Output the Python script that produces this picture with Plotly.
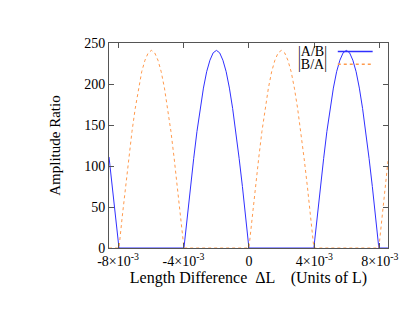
import plotly.graph_objects as go

# x values in units of 1e-3 L
blue_x = [-8.55, -8.35, -8.15, -7.94, -3.97,
          -3.970, -3.772, -3.573, -3.375, -3.176, -2.978, -2.779, -2.581, -2.382, -2.184, -1.985,
          -1.787, -1.588, -1.390, -1.191, -0.993, -0.794, -0.596, -0.397, -0.199, 0.000,
          3.970,
          3.970, 4.169, 4.367, 4.566, 4.764, 4.963, 5.161, 5.360, 5.558, 5.757, 5.955,
          6.154, 6.352, 6.551, 6.749, 6.948, 7.146, 7.345, 7.543, 7.742, 7.940, 8.50]
blue_y = [111, 77, 40, 0, 0,
          0, 38, 75, 109, 142, 170, 195, 215, 229, 238, 241,
          238, 229, 215, 195, 170, 142, 109, 75, 38, 0,
          0,
          0, 38, 75, 109, 142, 170, 195, 215, 229, 238, 241,
          238, 229, 215, 195, 170, 142, 109, 75, 38, 0, 0]

orange_x = [-8.55, -7.94,
            -7.940, -7.742, -7.543, -7.345, -7.146, -6.948, -6.749, -6.551, -6.352, -6.154, -5.955,
            -5.757, -5.558, -5.360, -5.161, -4.963, -4.764, -4.566, -4.367, -4.169, -3.970,
            0.000,
            0.000, 0.199, 0.397, 0.596, 0.794, 0.993, 1.191, 1.390, 1.588, 1.787, 1.985,
            2.184, 2.382, 2.581, 2.779, 2.978, 3.176, 3.375, 3.573, 3.772, 3.970,
            7.940, 8.140, 8.340, 8.50]
orange_y = [0, 0,
            0, 38, 75, 109, 142, 170, 195, 215, 229, 238, 241,
            238, 229, 215, 195, 170, 142, 109, 75, 38, 0,
            0,
            0, 38, 75, 109, 142, 170, 195, 215, 229, 238, 241,
            238, 229, 215, 195, 170, 142, 109, 75, 38, 0,
            0, 38, 75, 106]

x_ticks = [-8e-3, -4e-3, 0, 4e-3, 8e-3]
x_tick_labels = ["-8×10<sup>-3</sup>", "-4×10<sup>-3</sup>", "0", "4×10<sup>-3</sup>", "8×10<sup>-3</sup>"]
y_ticks = [0, 50, 100, 150, 200, 250]

series_names = ["|A/B|", "|B/A|"]
BLUE = "#3030ff"
ORANGE = "#ff9a4d"

fig = go.Figure()
fig.add_trace(go.Scatter(x=[v * 1e-3 for v in blue_x], y=blue_y, mode="lines",
                         line=dict(color=BLUE, width=1), name=series_names[0], showlegend=False))
fig.add_trace(go.Scatter(x=[v * 1e-3 for v in orange_x], y=orange_y, mode="lines",
                         line=dict(color=ORANGE, width=1, dash="dot"), name=series_names[1], showlegend=False))

font = dict(family="Liberation Serif, Times New Roman, serif", color="#000000")

axis_common = dict(showline=True, linecolor="#555555", linewidth=1, mirror="ticks",
                   ticks="inside", ticklen=5, tickcolor="#555555", showgrid=False,
                   zeroline=False, automargin=False, tickfont=dict(size=14, **font))

fig.update_xaxes(range=[-8.55e-3, 8.5e-3], tickvals=x_ticks, ticktext=x_tick_labels,
                 title=dict(text="Length Difference  ΔL    (Units of L)", font=dict(size=16, **font), standoff=3),
                 **axis_common)
fig.update_yaxes(range=[0, 250], tickvals=y_ticks,
                 title=dict(text="Amplitude Ratio", font=dict(size=15, **font), standoff=19),
                 **axis_common)

# gnuplot-style key: text right-aligned, sample line on the right
key_rows = [(series_names[0], BLUE, "solid", 0.958), (series_names[1], ORANGE, "dot", 0.896)]
for name, col, dash, yp in key_rows:
    fig.add_annotation(xref="paper", yref="paper", x=0.79, y=yp, text=name, showarrow=False,
                       xanchor="right", yanchor="middle", font=dict(size=14, **font))
    fig.add_shape(type="line", xref="paper", yref="paper", x0=0.82, x1=0.945, y0=yp, y1=yp,
                  line=dict(color=col, width=1.5, dash=dash))

fig.update_layout(width=415, height=321, margin=dict(l=109, r=27, t=43, b=73),
                  plot_bgcolor="white", paper_bgcolor="white", font=font)

fig.write_html("out.html", config={"displayModeBar": False},
               post_script="document.body.style.margin='0';document.body.style.overflow='hidden';")
